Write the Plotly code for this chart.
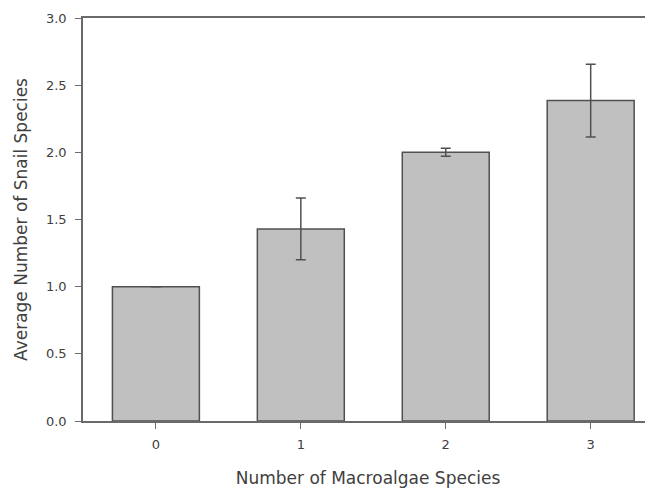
import plotly.graph_objects as go

categories = [0, 1, 2, 3]
means = [1.0, 1.43, 2.0, 2.385]
errors = [None, 0.23, 0.03, 0.27]
y_ticks = [0.0, 0.5, 1.0, 1.5, 2.0, 2.5, 3.0]
y_tick_labels = ["0.0", "0.5", "1.0", "1.5", "2.0", "2.5", "3.0"]

axis_col = "#6a6a6a"
text_col = "#404040"
font_family = "DejaVu Sans, Liberation Sans, Arial, sans-serif"

fig = go.Figure(go.Bar(
    x=categories, y=means, width=0.6,
    marker=dict(color="#c0c0c0", line=dict(color="#505050", width=1.5)),
    error_y=dict(type="data", array=errors, visible=True,
                 color="#505050", thickness=1.5, width=5),
))

fig.update_layout(
    width=645, height=480,
    margin=dict(l=75, r=0, t=10, b=67),
    paper_bgcolor="white", plot_bgcolor="white",
    font=dict(family=font_family, color=text_col, size=13),
    showlegend=False,
    xaxis=dict(
        range=[-0.503, 3.43], tickmode="array", tickvals=categories,
        ticktext=[str(c) for c in categories],
        showgrid=False, zeroline=False, showline=True, linecolor=axis_col,
        linewidth=1.5, mirror=True, ticks="outside", ticklen=6, tickwidth=1,
        tickcolor=axis_col, tickfont=dict(size=13), ticklabelstandoff=5,
        title=dict(text="Number of Macroalgae Species", font=dict(size=17), standoff=23),
    ),
    yaxis=dict(
        range=[0, 3], tickmode="array", tickvals=y_ticks, ticktext=y_tick_labels,
        showgrid=False, zeroline=False, showline=True, linecolor=axis_col,
        linewidth=1.5, ticks="outside", ticklen=6, tickwidth=1,
        tickcolor=axis_col, tickfont=dict(size=13), ticklabelstandoff=6,
        title=dict(text="Average Number of Snail Species", font=dict(size=17), standoff=14),
    ),
)

fig.write_html("out.html")
